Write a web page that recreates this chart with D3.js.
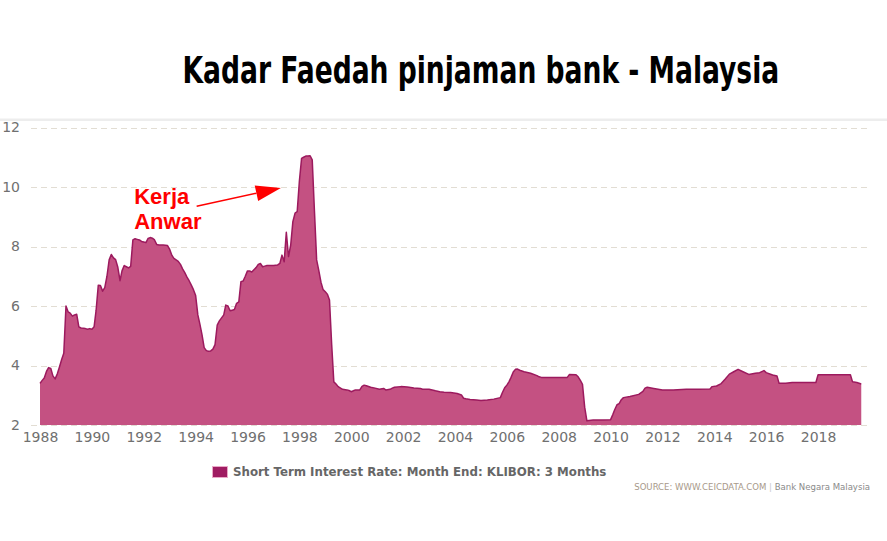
<!DOCTYPE html>
<html>
<head>
<meta charset="utf-8">
<script src="https://cdn.jsdelivr.net/npm/d3@7"></script>
<style>
  body { margin: 0; background: #fff; }
  svg { display: block; }
</style>
</head>
<body>
<svg id="chart"></svg>
<script>
// KLIBOR 3 bulan, nilai akhir bulan (dibaca dari carta)
const months = [
  "1988-01","1988-02","1988-03","1988-04","1988-05","1988-06","1988-07","1988-08","1988-09","1988-10","1988-11","1988-12",
  "1989-01","1989-02","1989-03","1989-04","1989-05","1989-06","1989-07","1989-08","1989-09","1989-10","1989-11","1989-12",
  "1990-01","1990-02","1990-03","1990-04","1990-05","1990-06","1990-07","1990-08","1990-09","1990-10","1990-11","1990-12",
  "1991-01","1991-02","1991-03","1991-04","1991-05","1991-06","1991-07","1991-08","1991-09","1991-10","1991-11","1991-12",
  "1992-01","1992-02","1992-03","1992-04","1992-05","1992-06","1992-07","1992-08","1992-09","1992-10","1992-11","1992-12",
  "1993-01","1993-02","1993-03","1993-04","1993-05","1993-06","1993-07","1993-08","1993-09","1993-10","1993-11","1993-12",
  "1994-01","1994-02","1994-03","1994-04","1994-05","1994-06","1994-07","1994-08","1994-09","1994-10","1994-11","1994-12",
  "1995-01","1995-02","1995-03","1995-04","1995-05","1995-06","1995-07","1995-08","1995-09","1995-10","1995-11","1995-12",
  "1996-01","1996-02","1996-03","1996-04","1996-05","1996-06","1996-07","1996-08","1996-09","1996-10","1996-11","1996-12",
  "1997-01","1997-02","1997-03","1997-04","1997-05","1997-06","1997-07","1997-08","1997-09","1997-10","1997-11","1997-12",
  "1998-01","1998-02","1998-03","1998-04","1998-05","1998-06","1998-07","1998-08","1998-09","1998-10","1998-11","1998-12",
  "1999-01","1999-02","1999-03","1999-04","1999-05","1999-06","1999-07","1999-09","1999-11","1999-12",
  "2000-01","2000-02","2000-03","2000-05","2000-06","2000-07","2000-08","2000-10","2000-12",
  "2001-02","2001-04","2001-05","2001-07","2001-08","2001-09","2001-12",
  "2002-03","2002-06","2002-09","2002-10",
  "2003-01","2003-04","2003-06","2003-08","2003-11",
  "2004-02","2004-04","2004-05","2004-06","2004-08","2004-11",
  "2005-01","2005-04","2005-07","2005-10","2005-11","2005-12",
  "2006-01","2006-02","2006-03","2006-04","2006-05","2006-06","2006-07","2006-09","2006-12",
  "2007-03","2007-04","2007-05","2007-09",
  "2008-01","2008-05","2008-06","2008-09","2008-10","2008-11","2008-12",
  "2009-01","2009-02","2009-05","2009-09",
  "2010-01","2010-02","2010-03","2010-04","2010-05","2010-06","2010-07","2010-10",
  "2011-02","2011-04","2011-05","2011-06","2011-09",
  "2012-01","2012-06","2012-12",
  "2013-06","2013-11","2013-12",
  "2014-02","2014-04","2014-06","2014-08","2014-10","2014-12",
  "2015-02","2015-05","2015-08","2015-10","2015-12",
  "2016-01","2016-04","2016-06","2016-07","2016-10",
  "2017-01","2017-08","2017-12",
  "2018-01","2018-08",
  "2019-04","2019-05","2019-07","2019-09"
];

const klibor = [
  3.40,3.50,3.58,3.80,3.93,3.90,3.65,3.55,3.72,3.95,4.20,4.41,
  6.00,5.80,5.76,5.66,5.70,5.72,5.30,5.26,5.25,5.24,5.22,5.24,
  5.22,5.30,5.85,6.70,6.69,6.50,6.62,7.00,7.55,7.73,7.62,7.56,
  7.30,6.85,7.18,7.36,7.32,7.28,7.33,8.22,8.26,8.24,8.22,8.17,
  8.15,8.13,8.27,8.30,8.28,8.22,8.07,8.05,8.05,8.05,8.04,8.03,
  7.90,7.70,7.60,7.55,7.50,7.40,7.25,7.12,6.97,6.85,6.70,6.55,
  6.35,5.70,5.40,5.03,4.60,4.50,4.48,4.49,4.55,4.70,5.36,5.50,
  5.60,5.70,6.03,6.00,5.84,5.86,5.88,6.09,6.14,6.82,6.84,7.00,
  7.18,7.18,7.14,7.22,7.29,7.40,7.43,7.32,7.34,7.36,7.36,7.36,
  7.36,7.37,7.38,7.43,7.71,7.49,8.48,7.66,8.05,8.83,9.12,9.17,
  10.20,10.96,11.00,11.04,11.04,11.05,10.91,9.20,7.55,7.20,6.80,6.55,
  6.48,6.39,6.20,4.70,3.45,3.38,3.29,3.20,3.18,3.16,
  3.12,3.15,3.18,3.18,3.30,3.34,3.32,3.27,3.24,
  3.20,3.23,3.18,3.20,3.24,3.27,3.29,
  3.28,3.24,3.23,3.20,
  3.20,3.15,3.12,3.10,3.09,
  3.06,3.01,2.90,2.88,2.86,2.84,
  2.82,2.84,2.87,2.92,3.10,3.25,
  3.34,3.46,3.60,3.78,3.87,3.88,3.84,3.79,3.74,
  3.66,3.62,3.60,3.60,
  3.60,3.60,3.70,3.69,3.62,3.50,3.37,
  2.60,2.14,2.17,2.17,
  2.18,2.35,2.52,2.68,2.72,2.85,2.92,2.96,
  3.03,3.13,3.24,3.27,3.23,
  3.18,3.18,3.20,
  3.20,3.21,3.29,
  3.31,3.38,3.54,3.71,3.79,3.87,
  3.80,3.70,3.74,3.76,3.83,
  3.76,3.68,3.65,3.40,3.40,
  3.43,3.43,3.43,
  3.69,3.69,
  3.69,3.45,3.43,3.38
];

const yTicks = [2, 4, 6, 8, 10, 12];
const xTickYears = [1988, 1990, 1992, 1994, 1996, 1998, 2000, 2002, 2004, 2006, 2008, 2010, 2012, 2014, 2016, 2018];

const titleText = "Kadar Faedah pinjaman bank - Malaysia";
const seriesName = "Short Term Interest Rate: Month End: KLIBOR: 3 Months";
const annotationLines = ["Kerja", "Anwar"];

const W = 887, H = 541;
const parse = d3.timeParse("%Y-%m");
const data = months.map((m, i) => ({ date: parse(m), value: klibor[i] }));

const svg = d3.select("#chart").attr("width", W).attr("height", H);

const x = d3.scaleTime()
  .domain([new Date(1988, 0, 1), new Date(2019, 11, 5)])
  .range([40, 868]);

const y = d3.scaleLinear()
  .domain([2, 12])
  .range([425, 127.5]);

// garis pemisah atas
svg.append("rect")
  .attr("x", 0).attr("y", 118.5)
  .attr("width", W).attr("height", 2.5)
  .attr("fill", "#ededed");

// title, diregang mendatar supaya lebarnya sama dengan asal
const title = svg.append("text")
  .attr("x", 0).attr("y", 0)
  .style("font-family", "'Liberation Sans Narrow', 'DejaVu Sans Condensed', sans-serif")
  .style("font-weight", "bold")
  .style("font-size", "38px")
  .attr("fill", "#000")
  .text(titleText);
const titleW = title.node().getComputedTextLength();
title.attr("transform", `translate(182.5,82.5) scale(${597 / titleW},1)`);

// grid
svg.append("g")
  .selectAll("line")
  .data(yTicks)
  .enter().append("line")
  .attr("x1", 31).attr("x2", 868)
  .attr("y1", d => Math.round(y(d)) + 0.5)
  .attr("y2", d => Math.round(y(d)) + 0.5)
  .attr("stroke", "#e2ddd3")
  .attr("stroke-width", 1)
  .attr("stroke-dasharray", "6,4");

// y axis labels
const yAxis = svg.append("g")
  .attr("transform", "translate(20,0)")
  .call(d3.axisLeft(y).tickValues(yTicks).tickSize(0).tickPadding(0));
yAxis.select(".domain").remove();
yAxis.selectAll("text")
  .style("font-family", "'DejaVu Sans', sans-serif")
  .style("font-size", "14px")
  .attr("fill", "#707070");

// x axis labels
const xAxis = svg.append("g")
  .attr("transform", "translate(0,432)")
  .call(d3.axisBottom(x)
    .tickValues(xTickYears.map(yr => new Date(yr, 0, 1)))
    .tickFormat(d3.timeFormat("%Y"))
    .tickSize(0).tickPadding(0));
xAxis.select(".domain").remove();
xAxis.selectAll("text")
  .attr("dy", "0.71em")
  .style("font-family", "'DejaVu Sans', sans-serif")
  .style("font-size", "14px")
  .attr("fill", "#707070");

// area + line
const area = d3.area()
  .x(d => x(d.date))
  .y0(y(2))
  .y1(d => y(d.value));

const line = d3.line()
  .x(d => x(d.date))
  .y(d => y(d.value));

svg.append("path")
  .datum(data)
  .attr("d", area)
  .attr("fill", "#c45182");

svg.append("path")
  .datum(data)
  .attr("d", line)
  .attr("fill", "none")
  .attr("stroke", "#9c1a5e")
  .attr("stroke-width", 1.5)
  .attr("stroke-linejoin", "round");

// annotation
const ann = svg.append("g");
ann.selectAll("text")
  .data(annotationLines)
  .enter().append("text")
  .attr("x", x(new Date(1991, 7, 20)))
  .attr("y", (d, i) => y(9.42) + i * 25)
  .style("font-family", "'Liberation Sans', Arial, sans-serif")
  .style("font-weight", "bold")
  .style("font-size", "22px")
  .attr("fill", "#ff0000")
  .text(d => d);

const arrowFrom = [x(new Date(1994, 0, 15)), y(9.35)];
const arrowTip = [x(new Date(1997, 3, 15)), y(9.97)];
const ang = Math.atan2(arrowTip[1] - arrowFrom[1], arrowTip[0] - arrowFrom[0]);
const headLen = 25, headHalf = 8;
const base = [arrowTip[0] - headLen * Math.cos(ang), arrowTip[1] - headLen * Math.sin(ang)];

ann.append("line")
  .attr("x1", arrowFrom[0]).attr("y1", arrowFrom[1])
  .attr("x2", base[0]).attr("y2", base[1])
  .attr("stroke", "#ff0000")
  .attr("stroke-width", 1.5);

ann.append("path")
  .attr("d", d3.line()([
    arrowTip,
    [base[0] + headHalf * Math.sin(ang), base[1] - headHalf * Math.cos(ang)],
    [base[0] - headHalf * Math.sin(ang), base[1] + headHalf * Math.cos(ang)]
  ]) + "Z")
  .attr("fill", "#ff0000");

// legend
const legend = svg.append("g").attr("transform", "translate(212,466)");
legend.append("rect")
  .attr("x", 0.5).attr("y", 0.5)
  .attr("width", 15).attr("height", 11)
  .attr("fill", "#a01c62")
  .attr("stroke", "#eaa9c8")
  .attr("stroke-width", 1);
const legendText = legend.append("text")
  .attr("x", 0).attr("y", 0)
  .style("font-family", "'DejaVu Sans Condensed', 'Liberation Sans Narrow', sans-serif")
  .style("font-weight", "bold")
  .style("font-size", "13px")
  .attr("fill", "#666")
  .text(seriesName);
const legendW = legendText.node().getComputedTextLength();
legendText.attr("transform", `translate(21,10) scale(${374 / legendW},1)`);

// source
const src = svg.append("text")
  .attr("x", 870).attr("y", 489.5)
  .attr("text-anchor", "end")
  .style("font-family", "'DejaVu Sans Condensed', 'Liberation Sans Narrow', sans-serif")
  .style("font-size", "9.5px");
src.append("tspan").attr("fill", "#a8998a").text("SOURCE: WWW.CEICDATA.COM");
src.append("tspan").attr("fill", "#c8c8c8").text(" | ");
src.append("tspan").attr("fill", "#8a8a8a").text("Bank Negara Malaysia");
</script>
</body>
</html>
